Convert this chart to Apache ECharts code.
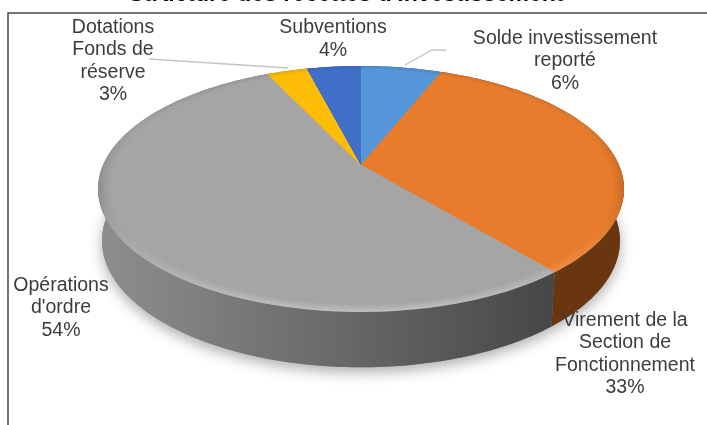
<!DOCTYPE html>
<html><head><meta charset="utf-8">
<style>html,body{margin:0;padding:0;background:#fff;overflow:hidden}#c{width:707px;height:425px;filter:blur(0.6px)}</style>
<script src="https://cdn.jsdelivr.net/npm/echarts@6/dist/echarts.min.js"></script>
</head><body><div id="c"></div>
<script>
const categories = ["Solde investissement\nreporté", "Virement de la\nSection de\nFonctionnement", "Opérations\nd'ordre", "Dotations\nFonds de\nréserve", "Subventions"];
const values = [6, 33, 54, 3, 4];
const colors = ["#5596d8", "#e97c2c", "#a5a5a5", "#fdbd06", "#3f6fc6"];
const wallColors = [["#3a6a9c","#3a6a9c"], ["#703b10","#6a3610"], ["#8e8e8e","#474747"], ["#a87f05","#a87f05"], ["#2c4f8c","#2c4f8c"]];
const titleText = "Structure des recettes d'investissement";

const total = values.reduce((a,b)=>a+b,0);
const starts = []; values.reduce((acc,v,i)=>{starts[i]=acc; return acc+v;},0);

// perspective view of the pie disc
const view = {cx:361, cy:165, rx:258, ry:118.3, k:0.195, lowRx:254, lowRy:121.8, lowCy:216};
function proj(a, r, low){
  const u = r*Math.sin(a), v = -r*Math.cos(a), w = 1 - view.k*v;
  return low ? [view.cx + view.lowRx*u/w, view.lowCy + view.lowRy*v/w]
             : [view.cx + view.rx*u/w, view.cy + view.ry*v/w];
}
function arc(a0, a1, r, low){
  const n = Math.max(2, Math.ceil((a1-a0)/0.02)), pts=[];
  for(let i=0;i<=n;i++) pts.push(proj(a0+(a1-a0)*i/n, r, low));
  return pts;
}
function angles(p){
  const i = p.dataIndex;
  return [starts[i]/total*2*Math.PI, (starts[i]+values[i])/total*2*Math.PI];
}
function mix(hex, target, t){
  const c = parseInt(hex.slice(1),16), q = target==='w'?255:0;
  const ch = [c>>16&255, c>>8&255, c&255].map(x=>Math.round(x+(q-x)*t));
  return `rgb(${ch[0]},${ch[1]},${ch[2]})`;
}
const seriesData = values.map((v,i)=>[v,i]);

function renderBase(p){
  const [a0,a1] = angles(p);
  return {type:'polygon', shape:{points:[[view.cx,view.lowCy]].concat(arc(a0,a1,1,true))},
    style:{fill:'#888', shadowBlur:14, shadowColor:'rgba(0,0,0,0.32)', shadowOffsetY:5}};
}
function renderWall(p){
  const [a0,a1] = angles(p);
  const i = p.dataIndex;
  const pts = arc(a0,a1,1,false).concat(arc(a0,a1,1,true).reverse());
  const fill = new echarts.graphic.LinearGradient(100,0,553,0,[
    {offset:0,color:wallColors[i][0]},{offset:1,color:wallColors[i][1]}],true);
  return {type:'polygon', shape:{points:pts}, style:{fill}};
}
function renderTop(p){
  const [a0,a1] = angles(p);
  const base = colors[p.dataIndex];
  const children = [];
  const radii = [1,0.992,0.984,0.976,0.968];
  radii.forEach((r,n)=>{
    const f = 1 - n/radii.length;
    const fill = new echarts.graphic.LinearGradient(0,66,0,312,[
      {offset:0,color:mix(base,'k',0.1*f)},
      {offset:0.25,color:mix(base,'k',0.04*f)},
      {offset:0.5,color:mix(base,'k',0.14*f)},
      {offset:0.72,color:mix(base,'w',0.05*f)},
      {offset:1,color:mix(base,'w',0.28*f)}],true);
    children.push({type:'polygon', shape:{points:[[view.cx,view.cy]].concat(arc(a0,a1,r,false))}, style:{fill}});
  });
  children.push({type:'polygon', shape:{points:[[view.cx,view.cy]].concat(arc(a0,a1,0.96,false))}, style:{fill:base}});
  return {type:'group', children};
}
const labelSpots = [[565,61],[625,354],[61,308],[113,61],[333,39]];
function renderLabel(p){
  const i = p.dataIndex, s = labelSpots[i];
  return {type:'text', x:s[0], y:s[1], style:{
    text:categories[i]+"\n"+values[i]+"%", fill:'#3c3c3c',
    font:"19.5px 'Liberation Sans', Arial, sans-serif", lineHeight:22.4,
    align:'center', verticalAlign:'middle'}};
}
const leader = '#c4c4c4';
const chart = echarts.init(document.getElementById('c'), null, {renderer:'canvas', width:707, height:425});
chart.setOption({
  animation:false, backgroundColor:'#fff',
  title:{text:titleText, left:341, top:-21.5, textAlign:'center',
    textStyle:{fontFamily:"'Liberation Sans', Arial", fontWeight:'bold', fontSize:23, color:'#000'}},
  graphic:[
    {type:'polyline', z:0, shape:{points:[[8,425],[8,13],[707,13]]}, style:{stroke:'#484848',lineWidth:1.5,fill:null}},
    {type:'polyline', z:50, shape:{points:[[149,59],[288,68]]}, style:{stroke:leader,lineWidth:1.3,fill:null}},
    {type:'polyline', z:50, shape:{points:[[405,65],[432,50],[446,50]]}, style:{stroke:leader,lineWidth:1.3,fill:null}}
  ],
  series:[
    {type:'custom',coordinateSystem:'none',z:1,silent:true,data:seriesData,renderItem:renderBase},
    {type:'custom',coordinateSystem:'none',z:2,silent:true,data:seriesData,renderItem:renderWall},
    {type:'custom',coordinateSystem:'none',z:3,silent:true,data:seriesData,renderItem:renderTop},
    {type:'custom',coordinateSystem:'none',z:60,silent:true,data:seriesData,renderItem:renderLabel}
  ]
});
</script></body></html>
